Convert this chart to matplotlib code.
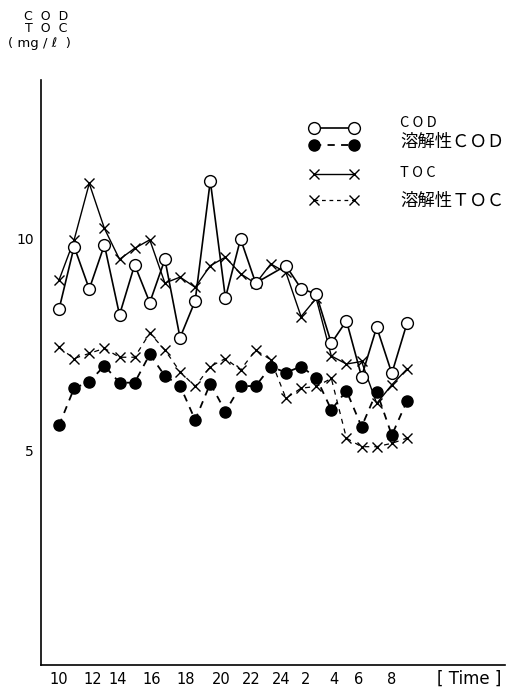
import matplotlib.pyplot as plt
import numpy as np

plt.rcParams['font.family'] = ['DejaVu Sans', 'Noto Sans CJK JP']

# hourly samples, 10 o'clock to 9 o'clock next day (index 0..23)
hour_idx = list(range(24))
cod_idx = list(range(14)) + list(range(15, 24))   # no COD value drawn at index 14

cod = [8.34, 9.82, 8.82, 9.86, 8.21, 9.39, 8.50, 9.52, 7.67, 8.54, 11.37, 8.61, 10.0, 8.96,
       9.37, 8.83, 8.70, 7.54, 8.07, 6.75, 7.92, 6.83, 8.01]
cod_sol = [5.60, 6.48, 6.63, 7.01, 6.61, 6.61, 7.28, 6.77, 6.54, 5.73, 6.59, 5.93, 6.53, 6.53,
           6.99, 6.85, 6.99, 6.73, 5.97, 6.42, 5.57, 6.40, 5.37, 6.18]
toc = [9.03, 9.98, 11.31, 10.25, 9.52, 9.78, 9.98, 8.96, 9.10, 8.86, 9.37, 9.57, 9.18, 8.95,
       9.41, 9.21, 8.17, 8.60, 7.24, 7.05, 7.11, 6.12, 6.56, 6.93]
toc_sol = [7.44, 7.18, 7.30, 7.42, 7.21, 7.21, 7.78, 7.38, 6.87, 6.52, 6.99, 7.18, 6.91, 7.38,
           7.15, 6.24, 6.48, 6.52, 6.71, 5.30, 5.10, 5.10, 5.18, 5.30]

tick_labels = ['10', '12', '14', '16', '18', '20', '22', '24', '2', '4', '6', '8']
tick_pos = [0, 2.2, 3.85, 6.15, 8.4, 10.7, 12.7, 14.7, 16.3, 18.2, 19.8, 22.0]

W, H = 511, 691
fig = plt.figure(figsize=(W / 100, H / 100), dpi=100)
ax = fig.add_axes([41 / W, 26 / H, 464 / W, 585 / H])

def px(x, y):
    return x / W, 1 - y / H

ax.plot(hour_idx, toc_sol, color='black', lw=0.9, ls=(0, (4, 4)),
        marker='x', ms=7, mew=1.0, zorder=2)
ax.plot(hour_idx, cod_sol, color='black', lw=1.3, ls=(0, (4, 3.5)),
        marker='o', ms=8, mfc='black', mec='black', zorder=3)
ax.plot(hour_idx, toc, color='black', lw=1.0, marker='x', ms=7, mew=1.0, zorder=4)
ax.plot(cod_idx, cod, color='black', lw=1.2, marker='o', ms=8.5, mfc='white',
        mec='black', mew=1.0, zorder=5)

ax.set_xlim(-1.19, 29.48)
ax.set_ylim(-0.05, 13.75)
ax.spines['top'].set_visible(False)
ax.spines['right'].set_visible(False)
ax.spines['left'].set_linewidth(1.2)
ax.spines['bottom'].set_linewidth(1.2)
ax.set_yticks([5, 10])
ax.set_yticklabels(['5', '10'], fontsize=10)
ax.set_xticks(tick_pos)
ax.set_xticklabels(tick_labels, fontsize=10.5)
ax.tick_params(axis='x', length=0, pad=5)
ax.tick_params(axis='y', length=0, pad=5)

# unit label above the y axis
fig.text(*px(46, 16), 'C  O  D', ha='center', va='center', fontsize=9)
fig.text(*px(46, 29), 'T  O  C', ha='center', va='center', fontsize=9)
fig.text(*px(39, 44), '( mg / ℓ  )', ha='center', va='center', fontsize=9.5)
fig.text(*px(469, 679), '[ Time ]', ha='center', va='center', fontsize=12)

# hand made legend
cjk = ['Noto Sans CJK JP', 'DejaVu Sans']
leg = [
    (128, dict(ls='-', lw=1.2, marker='o', ms=8.5, mfc='white', mec='black'), 'C O D', 123, 10.5),
    (145, dict(ls=(0, (4, 3.5)), lw=1.3, marker='o', ms=8, mfc='black', mec='black'), '溶解性ＣＯＤ', 142, 12.5),
    (174, dict(ls='-', lw=1.0, marker='x', ms=7, mew=1.0), 'T O C', 173, 10.5),
    (200, dict(ls=(0, (3, 3)), lw=0.9, marker='x', ms=7, mew=1.0), '溶解性ＴＯＣ', 201, 12.5),
]
for ym, style, label, yt, fs in leg:
    x0, y0 = px(314, ym)
    x1, y1 = px(354, ym)
    fig.add_artist(plt.Line2D([x0, x1], [y0, y1], color='black',
                              transform=fig.transFigure, **style))
    fig.text(*px(400, yt), label, ha='left', va='center', fontsize=fs, family=cjk)

fig.savefig('out.png', dpi=100)
